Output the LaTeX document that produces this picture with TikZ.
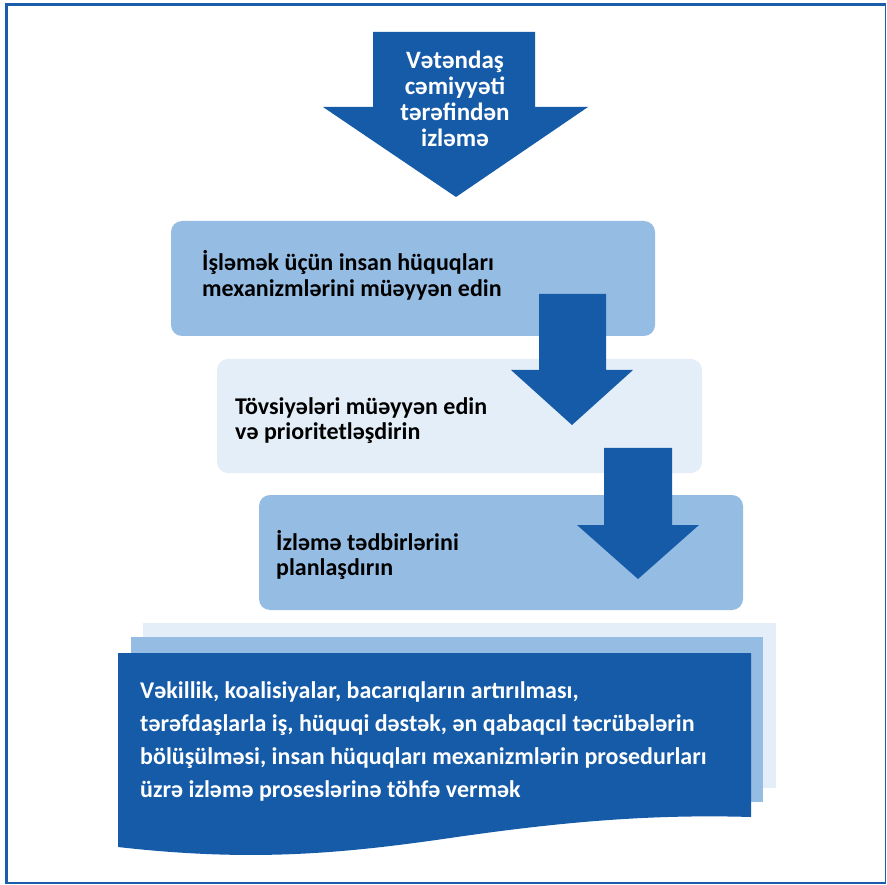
\documentclass[tikz,border=0pt]{standalone}
\usepackage{fontspec}
\setmainfont{Carlito}
\definecolor{darkblue}{HTML}{155BA8}
\definecolor{midblue}{HTML}{95BDE4}
\definecolor{paleblue}{HTML}{E3EEF8}
\definecolor{framecol}{HTML}{1A5DAA}
\begin{document}
\begin{tikzpicture}[x=1pt,y=-1pt,
  boxA/.style={fill=midblue,rounded corners=11pt},
  boxB/.style={fill=paleblue,rounded corners=11pt},
  blockarrow/.style={fill=darkblue},
  boxtext/.style={font=\bfseries\fontsize{24}{25.5}\selectfont,text=black,align=left,anchor=north west,inner sep=0pt},
  whitetext/.style={font=\bfseries\fontsize{24}{33}\selectfont,text=white,align=left,anchor=north west,inner sep=0pt},
  toptext/.style={font=\bfseries\fontsize{25}{25.8}\selectfont,text=white,align=center,inner sep=0pt}]
\useasboundingbox (0,0) rectangle (887,885);
\fill[white] (0,0) rectangle (887,885);
% frame
\draw[framecol,line width=1.5pt] (6,5) rectangle (885.5,883);
\draw[framecol,line width=3.2pt] (6.5,883) -- (6.5,4.5) -- (885.5,4.5);
% top arrow
\fill[blockarrow] (373,32) -- (535,32) -- (535,107) -- (588,107) -- (456,197) -- (323,107) -- (373,107) -- cycle;
\node[toptext] (t0) at (455,99) {Vətəndaş\\cəmiyyəti\\tərəfindən\\izləmə};
% boxes
\fill[boxA] (171,221) rectangle (655,336);
\fill[boxB] (217,359) rectangle (702,473);
\fill[boxA] (259,495) rectangle (743,610);
\node[boxtext] (t1) at (202,250.5) {İşləmək üçün insan hüquqları\\mexanizmlərini müəyyən edin};
\node[boxtext] (t2) at (235,397) {Tövsiyələri müəyyən edin\\və prioritetləşdirin};
\node[boxtext] (t3) at (276,530) {İzləmə tədbirlərini\\planlaşdırın};
% step arrows
\fill[blockarrow] (539,294) -- (606,294) -- (606,370) -- (633,370) -- (572,425) -- (511,370) -- (539,370) -- cycle;
\fill[blockarrow] (604,448) -- (672,448) -- (672,525) -- (699,525) -- (638,579) -- (577,525) -- (604,525) -- cycle;
% stacked documents
\fill[paleblue] (143,623) rectangle (776,788);
\fill[midblue] (131,637) rectangle (763,802);
\fill[darkblue] (118,653) -- (751,653) -- (751,817)
  .. controls (650,814) and (560,822) .. (450,838)
  .. controls (340,854) and (250,862) .. (118,847) -- cycle;
\node[whitetext] (t4) at (140,681) {Vəkillik, koalisiyalar, bacarıqların artırılması,\\tərəfdaşlarla iş, hüquqi dəstək, ən qabaqcıl təcrübələrin\\bölüşülməsi, insan hüquqları mexanizmlərin prosedurları\\üzrə izləmə proseslərinə töhfə vermək};
\end{tikzpicture}
\end{document}
